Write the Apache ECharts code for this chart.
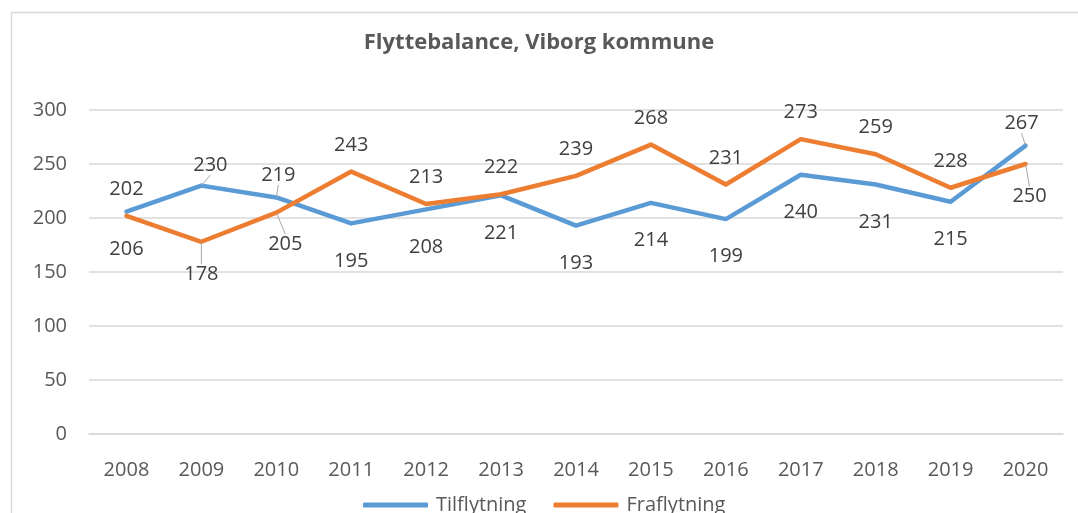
<!DOCTYPE html>
<html>
<head>
<meta charset="utf-8">
<script src="https://cdn.jsdelivr.net/npm/echarts@6/dist/echarts.min.js"></script>
<style>
html,body{margin:0;padding:0;background:#fff;}
#c{width:1078px;height:513px;}
</style>
</head>
<body>
<div id="c"></div>
<script>
const years = ['2008','2009','2010','2011','2012','2013','2014','2015','2016','2017','2018','2019','2020'];
const tilflytning = [206,230,219,195,208,221,193,214,199,240,231,215,267];
const fraflytning = [202,178,205,243,213,222,239,268,231,273,259,228,250];
const yTicks = [0,50,100,150,200,250,300];

const FONT = 'Open Sans';
const blue = '#5B9BD5', orange = '#ED7D31';

// label placement (style): indices where Tilflytning label sits above
const tilAboveIdx = [1,2,12];
// manual label nudges [dx,dy] for labels with leader lines
const moves = [
  {1:[9,6], 2:[2,4], 12:[-4,4]},
  {1:[0,-5], 2:[9,-6], 12:[4,-5]}
];

function buildData(vals, seriesIdx) {
  return vals.map((v, i) => {
    const tilAbove = tilAboveIdx.indexOf(i) >= 0;
    const above = seriesIdx === 0 ? tilAbove : !tilAbove;
    const moved = !!moves[seriesIdx][i];
    return {
      value: v,
      label: above ? {position: 'top', distance: 16} : {position: 'bottom', distance: 27},
      labelLine: {show: moved}
    };
  });
}

function makeSeries(name, vals, idx, color) {
  return {
    name: name,
    type: 'line',
    data: buildData(vals, idx),
    symbol: 'circle',
    symbolSize: 1,
    showSymbol: true,
    itemStyle: {color: color},
    lineStyle: {color: color, width: 4.5, cap: 'round', join: 'round'},
    label: {show: true, color: '#404040', fontFamily: FONT, fontSize: 20},
    labelLine: {show: false, lineStyle: {color: '#a6a6a6', width: 1}},
    labelLayout: function (p) {
      const m = moves[idx][p.dataIndex];
      return m ? {dx: m[0], dy: m[1]} : {};
    },
    emphasis: {disabled: true},
    animation: false
  };
}

const chart = echarts.init(document.getElementById('c'));
chart.setOption({
  animation: false,
  backgroundColor: '#ffffff',
  graphic: [{
    type: 'rect', left: 9, top: 10, z: -1,
    shape: {width: 1200, height: 700},
    style: {fill: 'none', stroke: '#d9d9d9', lineWidth: 1.5}
  }],
  title: {
    text: 'Flyttebalance, Viborg kommune',
    left: 'center', top: 27,
    textStyle: {fontFamily: FONT, fontSize: 22, fontWeight: 'bold', color: '#595959'}
  },
  legend: {
    left: 363, top: 495, padding: 0,
    icon: 'roundRect',
    itemWidth: 65, itemHeight: 5, itemGap: 27,
    textStyle: {fontFamily: FONT, fontSize: 20, color: '#595959', padding: [0,0,0,3]},
    data: ['Tilflytning', 'Fraflytning']
  },
  grid: {left: 89, right: 15, top: 110, bottom: 79, containLabel: false},
  xAxis: {
    type: 'category',
    data: years,
    boundaryGap: true,
    axisLine: {show: true, lineStyle: {color: '#d9d9d9', width: 1.5}},
    axisTick: {show: false},
    axisLabel: {fontFamily: FONT, fontSize: 20, color: '#595959', margin: 26}
  },
  yAxis: {
    type: 'value',
    min: yTicks[0], max: yTicks[yTicks.length - 1], interval: yTicks[1] - yTicks[0],
    axisLine: {show: false},
    axisTick: {show: false},
    splitLine: {lineStyle: {color: '#d9d9d9', width: 1.5}},
    axisLabel: {fontFamily: FONT, fontSize: 20, color: '#595959', margin: 22}
  },
  series: [
    makeSeries('Tilflytning', tilflytning, 0, blue),
    makeSeries('Fraflytning', fraflytning, 1, orange)
  ]
});
</script>
</body>
</html>
